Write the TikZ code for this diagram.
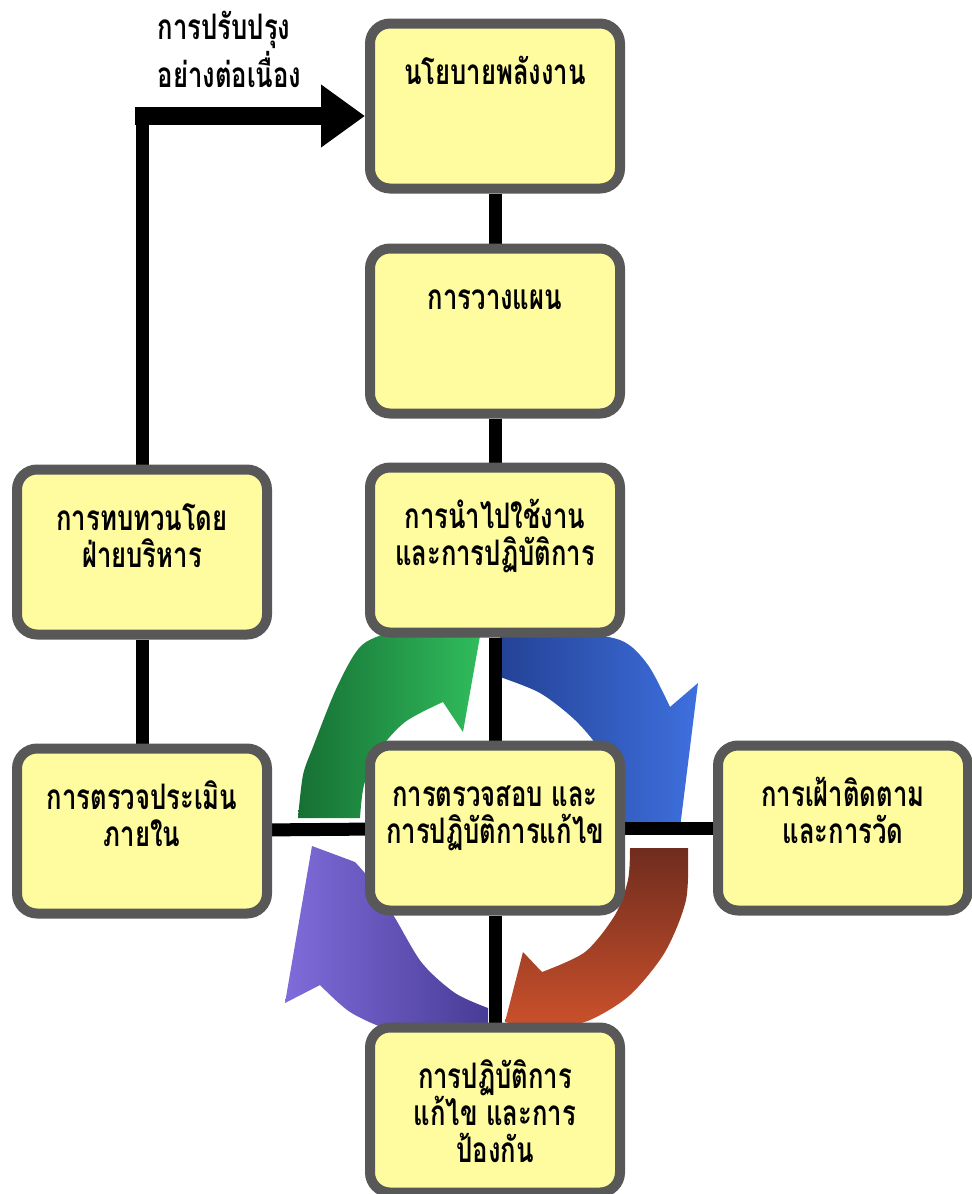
\documentclass[tikz,border=0pt]{standalone}
\usepackage{fontspec}
\newfontfamily\thaifont[Script=Thai,FakeStretch=0.73]{Loma}
\usetikzlibrary{arrows.meta,backgrounds}
\definecolor{boxfill}{RGB}{255,252,160}
\definecolor{boxedge}{RGB}{88,88,88}
\definecolor{grnD}{RGB}{22,112,52}
\definecolor{grnL}{RGB}{48,188,92}
\definecolor{bluD}{RGB}{36,66,150}
\definecolor{bluL}{RGB}{62,112,222}
\definecolor{redD}{RGB}{112,44,30}
\definecolor{redL}{RGB}{205,82,44}
\definecolor{purL}{RGB}{128,108,218}
\definecolor{purD}{RGB}{72,60,150}
\newcommand\tstrut{\rule{0pt}{12pt}}
\tikzset{
  stepbox/.style={draw=boxedge,fill=boxfill,line width=1mm,rounded corners=2mm,
    minimum width=25mm,minimum height=16.5mm},
  txt/.style={font=\thaifont\bfseries\fontsize{10}{10.6}\selectfont,align=center,
    anchor=north,inner sep=0pt,yshift=-2.3mm},
  link/.style={line width=1.3mm},
  bigarrow/.style={line width=1.8mm,-{Triangle[length=4.4mm,width=6mm]}},
}
\begin{document}
\begin{tikzpicture}[x=0.1mm,y=-0.1mm]
\useasboundingbox (0,0) rectangle (972,1194);
% boxes
\node[stepbox,label={[txt,name=polt]north:\tstrut นโยบายพลังงาน}] (pol) at (495,106) {};
\node[stepbox,label={[txt,name=plant]north:\tstrut การวางแผน}] (plan) at (495,331) {};
\node[stepbox,label={[txt,name=implt]north:\tstrut การนำไปใช้งาน\\และการปฏิบัติการ}] (impl) at (495,550) {};
\node[stepbox,label={[txt,name=revt]north:\tstrut การทบทวนโดย\\ฝ่ายบริหาร}] (rev) at (142,552) {};
\node[stepbox,label={[txt,name=audt]north:\tstrut การตรวจประเมิน\\ภายใน}] (aud) at (142,831) {};
\node[stepbox,label={[txt,name=chkt]north:\tstrut การตรวจสอบ และ\\การปฏิบัติการแก้ไข}] (chk) at (495,828) {};
\node[stepbox,label={[txt,name=mont]north:\tstrut การเฝ้าติดตาม\\และการวัด}] (mon) at (843,828) {};
\node[stepbox,label={[txt,name=cort]north:\tstrut การปฏิบัติการ\\แก้ไข และการ\\ป้องกัน}] (cor) at (495,1110) {};

% continual improvement
\coordinate (bend) at (142,116);
\node[txt,anchor=base west,align=left,yshift=0mm,
  font=\thaifont\bfseries\fontsize{10}{11.5}\selectfont] (cilbl) at (157,65) {การปรับปรุง\\อย่างต่อเนื่อง};

\begin{scope}[on background layer]
  % cycle arrows
  \shade[left color=grnD,right color=grnL]
    (298,818) -- plot[smooth] coordinates {(298,818) (303,775) (313,747) (337,687) (362,645) (400,630) (440,626)}
    -- (480,636) -- (463,732) -- (443,702)
    -- plot[smooth] coordinates {(443,702) (405,722) (378,752) (364,785) (360,818)} -- cycle;
  \shade[left color=bluD,right color=bluL]
    (500,636) -- plot[smooth] coordinates {(500,636) (560,632) (620,640) (648,665) (670,707)}
    -- (698,683) -- (680,828) -- (622,828)
    -- plot[smooth] coordinates {(622,828) (616,785) (600,750) (575,720) (540,693) (500,677)} -- cycle;
  \shade[top color=redD,bottom color=redL]
    (688,848) -- plot[smooth] coordinates {(688,848) (686,900) (665,952) (630,995) (590,1020) (545,1032)}
    -- (505,1022) -- (523,952) -- (542,972)
    -- plot[smooth] coordinates {(542,972) (585,952) (615,915) (628,880) (630,848)} -- cycle;
  \shade[left color=purL,right color=purD]
    (312,846) -- (285,1003) -- (320,985)
    -- plot[smooth] coordinates {(320,985) (350,1012) (390,1030) (440,1040) (488,1042)}
    -- (488,1008)
    -- plot[smooth] coordinates {(488,1008) (455,993) (422,963) (395,918) (372,882) (355,862)} -- cycle;
  % links
  \draw[link] (pol) -- (plan);
  \draw[link] (plan) -- (impl);
  \draw[link] (impl) -- (chk);
  \draw[link] (chk) -- (cor);
  \draw[link] (aud) -- (chk);
  \draw[link] (chk) -- (mon);
  \draw[link] (rev) -- (aud);
  \draw[link,line cap=rect] (rev.north) -- (bend);
  \draw[bigarrow] ([xshift=-0.7mm]bend) -- (bend -| pol.west);
\end{scope}
\end{tikzpicture}
\end{document}
